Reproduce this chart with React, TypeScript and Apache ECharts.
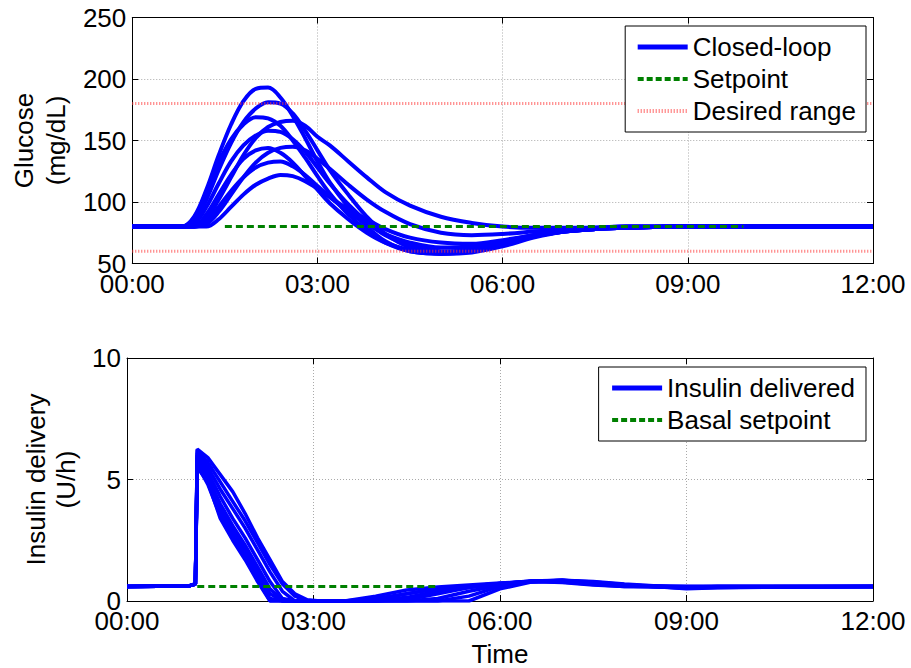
import React, { useEffect, useRef } from 'react';
import * as echarts from 'echarts';

// ---------- data ----------
const xTickLabels = ['00:00', '03:00', '06:00', '09:00', '12:00'];

// Glucose (mg/dL), time in hours
const glucoseTimes = [0, 0.8, 1.0, 1.2, 1.4, 1.6, 1.8, 2.0, 2.2, 2.4, 2.6, 2.8, 3.0, 3.2, 3.5, 3.8, 4.1, 4.5, 5.0, 5.5, 6.0, 6.5, 7.0, 7.5, 8.0, 9.0, 10.0, 11.0, 12.0];
const gA = [80, 80, 88, 110, 138, 163, 182, 192, 193, 185, 170, 152, 133, 116, 96, 80, 68, 60, 58, 60, 66, 72, 76, 78, 79, 80, 80, 80, 80];
const gB = [80, 80, 84, 102, 126, 148, 165, 176, 181, 180, 172, 158, 142, 126, 106, 88, 74, 63, 58, 59, 64, 71, 76, 78, 79, 80, 80, 80, 80];
const gC = [80, 80, 87, 108, 132, 151, 163, 169, 168, 162, 150, 136, 121, 107, 90, 77, 67, 60, 58, 61, 67, 73, 77, 79, 80, 80, 80, 80, 80];
const gD = [80, 80, 80, 86, 102, 120, 138, 152, 161, 165, 166, 162, 153, 146, 133, 120, 108, 97, 88, 83, 80, 79, 79, 79, 80, 80, 80, 80, 80];
const gE = [80, 80, 82, 96, 115, 133, 146, 154, 158, 157, 151, 141, 128, 115, 98, 84, 73, 65, 60, 61, 66, 72, 76, 78, 79, 80, 80, 80, 80];
const gF = [80, 80, 80, 82, 92, 106, 120, 132, 140, 144, 145, 142, 135, 127, 114, 102, 92, 82, 75, 73, 74, 76, 78, 79, 80, 80, 80, 80, 80];
const gG = [80, 80, 80, 90, 106, 122, 135, 142, 144, 140, 132, 121, 110, 99, 86, 75, 67, 61, 59, 62, 67, 72, 76, 78, 79, 80, 80, 80, 80];
const gH = [80, 80, 80, 84, 96, 109, 120, 128, 132, 133, 129, 122, 113, 104, 92, 82, 74, 67, 63, 64, 68, 73, 76, 78, 79, 80, 80, 80, 80];
const gI = [80, 80, 80, 80, 86, 96, 106, 114, 119, 122, 121, 117, 111, 104, 94, 86, 78, 71, 67, 66, 69, 73, 77, 78, 79, 80, 80, 80, 80];
const glucoseCurves = [gA, gB, gC, gD, gE, gF, gG, gH, gI];

const setpointTimes = [1.5, 9.9];
const setpointValue = 80;
const rangeTimes = [0, 12];
const rangeHigh = 180;
const rangeLow = 60;

// Insulin (U/h)
const insulinTimes = [0, 1.0, 1.1, 1.13, 1.3, 1.5, 1.7, 1.9, 2.1, 2.3, 2.5, 2.7, 2.9, 3.1, 3.5, 4.0, 4.5, 5.0, 5.5, 6.0, 6.5, 7.0, 7.5, 8.0, 9.0, 9.5, 12.0];
const i1 = [0.6, 0.62, 0.7, 6.25, 5.9, 5.2, 4.5, 3.6, 2.6, 1.7, 0.8, 0.3, 0.05, 0, 0, 0, 0.05, 0.3, 0.55, 0.72, 0.82, 0.85, 0.75, 0.65, 0.6, 0.6, 0.6];
const i2 = [0.6, 0.62, 0.7, 6.2, 5.7, 4.9, 4.1, 3.3, 2.4, 1.5, 0.7, 0.2, 0, 0, 0, 0, 0, 0.1, 0.4, 0.65, 0.8, 0.85, 0.8, 0.7, 0.55, 0.58, 0.6];
const i3 = [0.6, 0.62, 0.7, 6.1, 5.5, 4.6, 3.8, 3.0, 2.1, 1.2, 0.4, 0, 0, 0, 0, 0, 0.15, 0.4, 0.58, 0.7, 0.8, 0.82, 0.72, 0.62, 0.55, 0.6, 0.6];
const i4 = [0.6, 0.62, 0.7, 6.0, 5.3, 4.3, 3.4, 2.6, 1.7, 0.8, 0.1, 0, 0, 0, 0, 0.05, 0.3, 0.5, 0.62, 0.72, 0.8, 0.78, 0.68, 0.6, 0.58, 0.6, 0.6];
const i5 = [0.6, 0.62, 0.7, 5.9, 5.1, 4.0, 3.1, 2.3, 1.4, 0.5, 0, 0, 0, 0, 0, 0, 0, 0, 0, 0.5, 0.78, 0.85, 0.78, 0.68, 0.5, 0.55, 0.6];
const i6 = [0.6, 0.62, 0.7, 5.8, 5.0, 3.8, 2.9, 2.1, 1.2, 0.3, 0, 0, 0, 0, 0, 0.2, 0.45, 0.58, 0.66, 0.74, 0.8, 0.76, 0.66, 0.6, 0.6, 0.6, 0.6];
const i7 = [0.6, 0.62, 0.7, 5.7, 4.9, 3.6, 2.7, 1.9, 1.0, 0.1, 0, 0, 0, 0, 0, 0, 0.1, 0.35, 0.55, 0.7, 0.82, 0.84, 0.74, 0.64, 0.56, 0.58, 0.6];
const i8 = [0.6, 0.62, 0.7, 5.6, 4.8, 3.5, 2.6, 1.8, 0.9, 0, 0, 0, 0, 0, 0, 0, 0, 0, 0.2, 0.6, 0.8, 0.84, 0.76, 0.66, 0.52, 0.56, 0.6];
const i9 = [0.6, 0.62, 0.7, 5.5, 4.9, 3.4, 2.5, 1.7, 0.8, 0, 0, 0, 0, 0, 0, 0.1, 0.3, 0.5, 0.62, 0.72, 0.8, 0.8, 0.7, 0.62, 0.6, 0.6, 0.6];
const insulinCurves = [i1, i2, i3, i4, i5, i6, i7, i8, i9];

const basalTimes = [1.13, 5.0];
const basalValue = 0.6;

// ---------- styles ----------
const FONT = 'Liberation Sans, Arial, Helvetica, sans-serif';
const BLUE = '#0000ff';
const GREEN = '#008000';
const RED = '#ff3a3a';

const pairs = (ts: number[], vs: number[]) => ts.map((t, k) => [t, vs[k]]);
const flat = (ts: number[], v: number) => ts.map((t) => [t, v]);

export default function App() {
  const ref = useRef<HTMLDivElement>(null);

  useEffect(() => {
    if (!ref.current) return;
    const chart = echarts.init(ref.current, undefined, { renderer: 'svg' });

    const grids = [
      { left: 127, right: 38, top: 17.5, height: 246 },
      { left: 127, right: 38, top: 358, height: 246 },
    ];

    const xBase = (gridIndex: number, extra: any = {}) => ({
      type: 'value',
      gridIndex,
      min: 0,
      max: 12,
      interval: 3,
      axisLine: { show: true, onZero: false, lineStyle: { color: '#000', width: 1 } },
      axisTick: { show: true, inside: true, length: 6, lineStyle: { color: '#000' } },
      ...extra,
    });
    const yBase = (gridIndex: number, min: number, max: number, interval: number, extra: any = {}) => ({
      type: 'value',
      gridIndex,
      min,
      max,
      interval,
      axisLine: { show: true, onZero: false, lineStyle: { color: '#000', width: 1 } },
      axisTick: { show: true, inside: true, length: 6, lineStyle: { color: '#000' } },
      ...extra,
    });

    const labelStyle = { color: '#000', fontSize: 26, fontFamily: FONT };
    const splitLine = { show: true, lineStyle: { color: '#aaaaaa', type: [1, 2], width: 1 } };

    const xAxis = [
      xBase(0, {
        position: 'bottom',
        axisLabel: { ...labelStyle, margin: 7, formatter: (v: number) => xTickLabels[Math.round(v / 3)] },
        splitLine,
      }),
      xBase(0, { position: 'top', axisLabel: { show: false }, splitLine: { show: false } }),
      xBase(1, {
        position: 'bottom',
        axisLabel: { ...labelStyle, margin: 7, formatter: (v: number) => xTickLabels[Math.round(v / 3)] },
        splitLine,
        name: 'Time',
        nameLocation: 'middle',
        nameGap: 40,
        nameTextStyle: { ...labelStyle },
      }),
      xBase(1, { position: 'top', axisLabel: { show: false }, splitLine: { show: false } }),
    ];

    const yAxis = [
      yBase(0, 50, 250, 50, {
        position: 'left',
        axisLabel: { ...labelStyle, margin: 6 },
        splitLine,
        name: 'Glucose\n(mg/dL)',
        nameLocation: 'middle',
        nameRotate: 90,
        nameGap: 60,
        nameTextStyle: { ...labelStyle, lineHeight: 32 },
      }),
      yBase(0, 50, 250, 50, { position: 'right', axisLabel: { show: false }, splitLine: { show: false } }),
      yBase(1, 0, 10, 5, {
        position: 'left',
        axisLabel: { ...labelStyle, margin: 6 },
        splitLine,
        name: 'Insulin delivery\n(U/h)',
        nameLocation: 'middle',
        nameRotate: 90,
        nameGap: 45,
        nameTextStyle: { ...labelStyle, lineHeight: 30 },
      }),
      yBase(1, 0, 10, 5, { position: 'right', axisLabel: { show: false }, splitLine: { show: false } }),
    ];

    const series: any[] = [];
    glucoseCurves.forEach((c) => {
      series.push({
        type: 'line',
        name: 'Closed-loop',
        xAxisIndex: 0,
        yAxisIndex: 0,
        data: pairs(glucoseTimes, c),
        symbol: 'none',
        smooth: 0.35,
        lineStyle: { color: BLUE, width: 4 },
        itemStyle: { color: BLUE },
        z: 2,
      });
    });
    series.push({
      type: 'line',
      name: 'Setpoint',
      xAxisIndex: 0,
      yAxisIndex: 0,
      data: flat(setpointTimes, setpointValue),
      symbol: 'none',
      lineStyle: { color: GREEN, width: 3, type: [7, 4] },
      itemStyle: { color: GREEN },
      z: 3,
    });
    [rangeHigh, rangeLow].forEach((v) => {
      series.push({
        type: 'line',
        name: 'Desired range',
        xAxisIndex: 0,
        yAxisIndex: 0,
        data: flat(rangeTimes, v),
        symbol: 'none',
        lineStyle: { color: RED, width: 3, type: [1, 2], opacity: 0.75 },
        itemStyle: { color: RED },
        z: 3,
      });
    });
    insulinCurves.forEach((c) => {
      series.push({
        type: 'line',
        name: 'Insulin delivered',
        xAxisIndex: 2,
        yAxisIndex: 2,
        data: pairs(insulinTimes, c),
        symbol: 'none',
        lineStyle: { color: BLUE, width: 3.5 },
        itemStyle: { color: BLUE },
        z: 2,
      });
    });
    series.push({
      type: 'line',
      name: 'Basal setpoint',
      xAxisIndex: 2,
      yAxisIndex: 2,
      data: flat(basalTimes, basalValue),
      symbol: 'none',
      lineStyle: { color: GREEN, width: 3, type: [7, 4] },
      itemStyle: { color: GREEN },
      z: 3,
    });

    const legendBase = {
      orient: 'vertical',
      right: 45,
      itemWidth: 50,
      itemHeight: 14,
      itemGap: 2,
      selectedMode: false,
      backgroundColor: '#fff',
      borderColor: '#000',
      borderWidth: 1,
      borderRadius: 0,
      itemStyle: { opacity: 0 },
      textStyle: { color: '#000', fontSize: 26, fontFamily: FONT, lineHeight: 30 },
    };
    const hidden = { opacity: 0, borderWidth: 0 };

    chart.setOption({
      animation: false,
      backgroundColor: '#fff',
      grid: grids,
      xAxis,
      yAxis,
      legend: [
        {
          ...legendBase,
          top: 26,
          padding: [6, 10, 6, 10],
          data: [
            { name: 'Closed-loop', itemStyle: hidden, lineStyle: { color: BLUE, width: 5, type: 'solid' } },
            { name: 'Setpoint', itemStyle: hidden, lineStyle: { color: GREEN, width: 4, type: [6, 3] } },
            { name: 'Desired range', itemStyle: hidden, lineStyle: { color: RED, width: 4, type: [1, 2], opacity: 0.75 } },
          ],
        },
        {
          ...legendBase,
          top: 367,
          padding: [6, 11, 6, 11],
          data: [
            { name: 'Insulin delivered', itemStyle: hidden, lineStyle: { color: BLUE, width: 5, type: 'solid' } },
            { name: 'Basal setpoint', itemStyle: hidden, lineStyle: { color: GREEN, width: 4, type: [6, 3] } },
          ],
        },
      ],
      series,
    });

    return () => chart.dispose();
  }, []);

  return <div ref={ref} style={{ position: 'absolute', left: 0, top: 0, width: 911, height: 668 }} />;
}
